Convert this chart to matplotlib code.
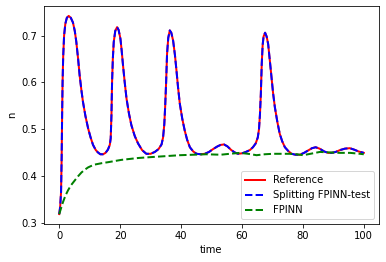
import matplotlib
matplotlib.use("Agg")
import matplotlib.pyplot as plt

# values
t_ref = [0, 0.3, 0.6, 0.8, 0.95, 1.1, 1.3, 1.6, 2.0, 2.5, 3.1, 3.8, 4.5, 5.1, 5.6,
         6.2, 6.7, 7.3, 7.8, 8.6, 9.5, 10.3, 11.1, 12.0, 12.7, 13.5, 14.4, 15.2,
         16.0, 16.6, 16.9, 17.15, 17.35, 17.6, 17.9, 18.4, 19.0, 19.5, 20.1, 20.5,
         20.95, 21.5, 22.1, 22.9, 23.7, 24.8, 25.9, 27.2, 28.6, 30.0, 31.4, 32.6,
         33.6, 34.1, 34.5, 34.8, 35.1, 35.4, 35.8, 36.3, 36.8, 37.4, 38.0, 38.5,
         39.0, 39.6, 40.4, 41.2, 42.0, 42.9, 44.0, 45.1, 46.5, 47.8, 49.2, 50.5,
         52.0, 53.0, 54.1, 55.2, 56.5, 57.6, 58.7, 60.0, 61.3, 62.6, 63.6, 64.5,
         65.2, 65.6, 65.9, 66.2, 66.5, 66.8, 67.1, 67.6, 68.1, 68.6, 69.1, 69.7,
         70.2, 70.8, 71.6, 72.4, 73.2, 74.1, 75.2, 76.3, 77.6, 79.0, 80.4, 81.7,
         83.0, 84.2, 85.5, 87.0, 88.3, 89.4, 90.8, 92.2, 93.8, 95.4, 96.8, 98.3,
         100.0]
n_ref = [0.318, 0.333, 0.365, 0.44, 0.53, 0.60, 0.655, 0.70, 0.725, 0.738, 0.742,
         0.738, 0.728, 0.71, 0.687, 0.65, 0.615, 0.582, 0.558, 0.528, 0.501,
         0.482, 0.466, 0.455, 0.450, 0.446, 0.446, 0.449, 0.456, 0.466, 0.48,
         0.53, 0.60, 0.65, 0.686, 0.710, 0.718, 0.712, 0.693, 0.668, 0.636, 0.600,
         0.565, 0.533, 0.508, 0.485, 0.469, 0.455, 0.447, 0.447, 0.451, 0.457,
         0.467, 0.482, 0.51, 0.55, 0.60, 0.66, 0.695, 0.711, 0.706, 0.689, 0.658,
         0.625, 0.59, 0.554, 0.522, 0.497, 0.477, 0.461, 0.452, 0.447, 0.446,
         0.447, 0.451, 0.457, 0.463, 0.466, 0.467, 0.463, 0.455, 0.45, 0.447,
         0.448, 0.451, 0.455, 0.461, 0.469, 0.482, 0.50, 0.53, 0.575, 0.64, 0.68,
         0.698, 0.706, 0.698, 0.682, 0.65, 0.611, 0.578, 0.547, 0.516, 0.49,
         0.474, 0.461, 0.453, 0.447, 0.445, 0.445, 0.449, 0.454, 0.459, 0.461,
         0.458, 0.452, 0.449, 0.449, 0.451, 0.455, 0.458, 0.459, 0.456, 0.452,
         0.449]

# splitting FPINN lies on top of the reference everywhere
t_split = list(t_ref)
n_split = list(n_ref)

t_fpinn = [0, 1.2, 2.0, 2.9, 3.9, 5.1, 6.2, 7.3, 8.4, 9.5, 10.5, 11.7, 14.0, 16.0,
           20.4, 25.9, 30.3, 35.0, 39.6, 44.0, 48.3, 53.0, 56.0, 59.3, 62.0, 64.8,
           67.5, 70.2, 75.7, 78.0, 80.1, 82.5, 85.6, 88.5, 92.1, 95.5, 98.7, 100.0]
n_fpinn = [0.318, 0.343, 0.357, 0.369, 0.380, 0.39, 0.399, 0.407, 0.413, 0.418,
           0.421, 0.424, 0.427, 0.429, 0.434, 0.438, 0.44, 0.442, 0.444, 0.445,
           0.446, 0.445, 0.447, 0.449, 0.447, 0.444, 0.446, 0.447, 0.447, 0.446,
           0.444, 0.447, 0.451, 0.450, 0.449, 0.449, 0.447, 0.446]

fig = plt.figure(figsize=(386 / 72, 262 / 72), dpi=72)
ax = fig.add_axes([44 / 386, 1 - 224 / 262, 335 / 386, 218 / 262])

ax.plot(t_ref, n_ref, color="red", lw=2, label="Reference")
ax.plot(t_split, n_split, color="blue", lw=2, ls="--", label="Splitting FPINN-test")
ax.plot(t_fpinn, n_fpinn, color="green", lw=2, ls="--", label="FPINN")

ax.set_xlabel("time")
ax.set_ylabel("n")
ax.legend(loc="lower right")

fig.savefig("out.png", dpi=72)
